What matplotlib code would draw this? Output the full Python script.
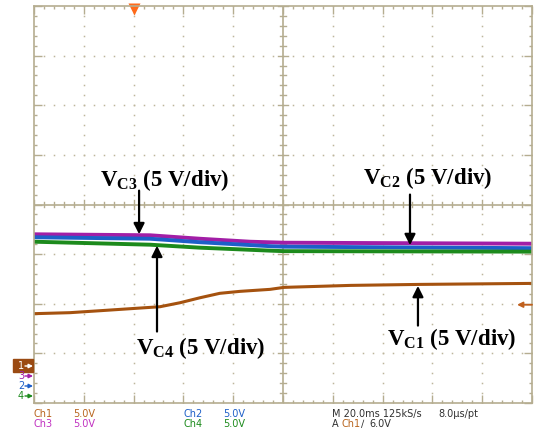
import numpy as np
import matplotlib
matplotlib.use('Agg')
import matplotlib.pyplot as plt

plt.rcParams['mathtext.fontset'] = 'custom'
plt.rcParams['mathtext.bf'] = 'Liberation Serif:bold'
plt.rcParams['mathtext.rm'] = 'Liberation Serif'

# screen positions in divisions (x: 0..10, y: -4..4)
ch1_x = [0.0, 0.72, 1.33, 2.53, 2.93, 3.33, 3.73, 4.14, 4.74, 5.02, 6.36, 7.76, 10.0]
ch1_y = [-2.20, -2.18, -2.14, -2.06, -1.98, -1.88, -1.79, -1.75, -1.71, -1.67, -1.63, -1.61, -1.59]
ch3_x = [0.0, 2.33, 3.33, 4.34, 5.02, 10.0]
ch3_y = [-0.60, -0.62, -0.69, -0.75, -0.77, -0.79]
ch2_x = [0.0, 2.33, 3.33, 4.74, 5.02, 10.0]
ch2_y = [-0.66, -0.69, -0.76, -0.84, -0.85, -0.88]
ch4_x = [0.0, 2.33, 3.33, 4.74, 5.02, 10.0]
ch4_y = [-0.75, -0.81, -0.87, -0.93, -0.94, -0.95]

brown = '#a5520f'
purple = '#a21ea6'
blue = '#1d5fc8'
green = '#1c8a1c'
frame = '#b5ad90'

W, H = 534, 430
fig = plt.figure(figsize=(W/100, H/100), dpi=100)
ax = fig.add_axes([34/W, (H-403)/H, 498/W, 397/H])
ax.set_xlim(0, 10)
ax.set_ylim(-4, 4)
for s in ax.spines.values():
    s.set_color(frame)
    s.set_linewidth(1.2)
ax.set_xticks(np.arange(0, 11, 1))
ax.set_yticks(np.arange(-4, 5, 1))
ax.set_xticks(np.arange(0, 10.01, 0.2), minor=True)
ax.set_yticks(np.arange(-4, 4.01, 0.2), minor=True)
ax.tick_params(which='both', direction='in', color=frame, labelbottom=False, labelleft=False,
               top=True, right=True, width=1)
ax.tick_params(which='major', length=6)
ax.tick_params(which='minor', length=2.2)

# dotted graticule
dots = np.arange(0, 10.01, 0.2)
for gy in range(-3, 4):
    if gy == 0:
        continue
    ax.plot(dots, np.full_like(dots, gy), ls='none', marker='s', ms=1.1, color='#bdb69c', mec='none')
dots_y = np.arange(-4, 4.01, 0.2)
for gx in range(1, 10):
    if gx == 5:
        continue
    ax.plot(np.full_like(dots_y, gx), dots_y, ls='none', marker='s', ms=1.1, color='#bdb69c', mec='none')

# centre cross with ticks
ax.axhline(0, color=frame, lw=1.2)
ax.axvline(5, color=frame, lw=1.2)
for t in np.arange(0, 10.01, 0.2):
    h = 0.1 if abs(t - round(t)) < 1e-6 else 0.06
    ax.plot([t, t], [-h, h], color=frame, lw=1)
for t in np.arange(-4, 4.01, 0.2):
    w = 0.1 if abs(t - round(t)) < 1e-6 else 0.06
    ax.plot([5 - w, 5 + w], [t, t], color=frame, lw=1)

# traces
ax.plot(ch3_x, ch3_y, color=purple, lw=2.8, solid_capstyle='butt')
ax.plot(ch2_x, ch2_y, color=blue, lw=2.8, solid_capstyle='butt')
ax.plot(ch4_x, ch4_y, color=green, lw=2.8, solid_capstyle='butt')
ax.plot(ch1_x, ch1_y, color=brown, lw=2.2, solid_capstyle='butt')

# trigger markers
ax.plot([2], [3.93], marker='v', ms=8, color='#ff6a1a', mec='none', clip_on=False)
ax.annotate('', xy=(9.70, -2.02), xytext=(10.0, -2.02), annotation_clip=False,
            arrowprops=dict(arrowstyle='-|>', color='#c0601e', lw=1.3, mutation_scale=8,
                            shrinkA=0, shrinkB=0))

# annotations
lab = dict(fontsize=16.5, fontfamily='Liberation Serif', fontweight='bold', va='center', ha='left')
arr = dict(arrowstyle='-|>', color='black', lw=1.6, mutation_scale=16, shrinkA=0, shrinkB=0)
ax.text(1.33, 0.50, r'$\mathbf{V}_{\mathbf{C3}}$ (5 V/div)', **lab)
ax.annotate('', xy=(2.11, -0.60), xytext=(2.11, 0.28), arrowprops=arr)
ax.text(6.61, 0.54, r'$\mathbf{V}_{\mathbf{C2}}$ (5 V/div)', **lab)
ax.annotate('', xy=(7.55, -0.82), xytext=(7.55, 0.20), arrowprops=arr)
ax.text(2.05, -2.90, r'$\mathbf{V}_{\mathbf{C4}}$ (5 V/div)', **lab)
ax.annotate('', xy=(2.47, -0.83), xytext=(2.47, -2.56), arrowprops=arr)
ax.text(7.09, -2.72, r'$\mathbf{V}_{\mathbf{C1}}$ (5 V/div)', **lab)
ax.annotate('', xy=(7.71, -1.64), xytext=(7.71, -2.44), arrowprops=arr)

# channel ground markers (figure pixels)
def fx(px):
    return px / W
def fy(py):
    return 1 - py / H

fig.patches.append(plt.Rectangle((fx(13), fy(372)), 20/W, 13/H, transform=fig.transFigure,
                                 color='#9a4a12', zorder=5))
mk = [('1', 366, 'white'), ('3', 376, purple), ('2', 386, blue), ('4', 396, green)]
for num, py, col in mk:
    fig.text(fx(18), fy(py), num, color=col, fontsize=7, va='center', zorder=6)
    fig.patches.append(matplotlib.patches.FancyArrowPatch(
        (fx(25), fy(py)), (fx(33), fy(py)), transform=fig.transFigure, arrowstyle='-|>',
        mutation_scale=6, color=col, lw=1, shrinkA=0, shrinkB=0, zorder=6))

# readout
sm = dict(fontsize=7, va='center', ha='left')
r1, r2 = 414, 424
fig.text(fx(33), fy(r1), 'Ch1', color='#b8651e', **sm)
fig.text(fx(73), fy(r1), '5.0V', color='#b8651e', **sm)
fig.text(fx(184), fy(r1), 'Ch2', color=blue, **sm)
fig.text(fx(223), fy(r1), '5.0V', color=blue, **sm)
fig.text(fx(332), fy(r1), 'M 20.0ms 125kS/s', color='#303030', **sm)
fig.text(fx(438), fy(r1), '8.0\u00b5s/pt', color='#303030', **sm)
fig.text(fx(33), fy(r2), 'Ch3', color='#c030c0', **sm)
fig.text(fx(73), fy(r2), '5.0V', color='#c030c0', **sm)
fig.text(fx(184), fy(r2), 'Ch4', color=green, **sm)
fig.text(fx(223), fy(r2), '5.0V', color=green, **sm)
fig.text(fx(332), fy(r2), 'A', color='#303030', **sm)
fig.text(fx(341), fy(r2), 'Ch1', color='#b8651e', **sm)
fig.text(fx(361), fy(r2), '\u2215', color='#303030', **sm)
fig.text(fx(369), fy(r2), '6.0V', color='#303030', **sm)

fig.savefig('out.png', dpi=100)
